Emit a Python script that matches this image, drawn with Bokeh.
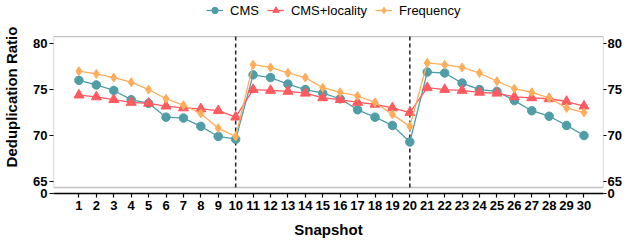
from bokeh.plotting import figure
from bokeh.models import (Range1d, LinearAxis, FixedTicker, BoxAnnotation,
                          Legend, LegendItem)
from bokeh.embed import file_html
from bokeh.resources import INLINE

snapshots = list(range(1, 31))
cms = [76.0, 75.5, 74.9, 73.9, 73.5, 72.0, 71.9, 71.0, 69.9, 69.6,
       76.6, 76.3, 75.6, 75.0, 74.6, 74.0, 72.8, 72.0, 71.1, 69.3,
       76.9, 76.8, 75.7, 75.0, 74.8, 73.8, 72.7, 72.1, 71.1, 70.0]
cms_locality = [74.4, 74.2, 73.9, 73.6, 73.5, 73.2, 73.0, 72.9, 72.7, 72.0,
                75.0, 74.9, 74.8, 74.6, 74.1, 73.9, 73.6, 73.4, 73.0, 72.5,
                75.2, 75.0, 74.9, 74.7, 74.6, 74.2, 74.1, 74.0, 73.7, 73.2]
frequency = [77.0, 76.7, 76.3, 75.8, 75.0, 74.0, 73.3, 72.4, 70.8, 69.9,
             77.7, 77.4, 76.8, 76.3, 75.2, 74.7, 74.3, 73.6, 72.3, 71.0,
             77.9, 77.7, 77.4, 76.8, 75.9, 75.1, 74.7, 74.1, 73.0, 72.5]
break_snapshots = [10, 20]
y_ticks = [65, 70, 75, 80]
zero_pos = 63.7        # position of the broken-axis "0" tick
panel_bottom = 64.35   # bottom edge of the upper panel
y_top = 80.76          # top edge of the upper panel
y_end = 84.68          # frame top (room for the legend)
x_start, x_end = -0.46, 31.12

FONT = "Liberation Sans"
teal, red, orange = "#4F9DA6", "#FF5A5F", "#FFAD5A"

p = figure(width=624, height=240, output_backend="svg", toolbar_location=None,
           x_range=Range1d(x_start, x_end), y_range=Range1d(zero_pos, y_end),
           min_border_left=47, min_border_right=21, min_border_bottom=47,
           min_border_top=0)
p.outline_line_color = None
p.grid.visible = False
p.background_fill_color = "white"

# panel box
p.add_layout(BoxAnnotation(bottom=panel_bottom, top=y_top, fill_alpha=0,
                           line_color="#333333", line_width=1.3))

# dashed separators
p.segment(x0=break_snapshots, x1=break_snapshots,
          y0=[panel_bottom] * len(break_snapshots), y1=[y_top] * len(break_snapshots),
          line_color="#222222", line_width=1.5, line_dash="4 3")

r1l = p.line(snapshots, cms, line_color=teal, line_width=1.3)
r1s = p.scatter(snapshots, cms, marker="circle", size=8.5, fill_color=teal, line_color=teal)
r2l = p.line(snapshots, cms_locality, line_color=red, line_width=1.3)
r2s = p.scatter(snapshots, cms_locality, marker="triangle", size=10, fill_color=red, line_color=red)
r3l = p.line(snapshots, frequency, line_color=orange, line_width=1.3)
r3s = p.scatter(snapshots, frequency, marker="diamond", size=9, fill_color=orange, line_color=orange)

# axes
overrides = {zero_pos: "0"}
p.yaxis[0].ticker = FixedTicker(ticks=[zero_pos] + y_ticks)
p.yaxis[0].major_label_overrides = overrides
right = LinearAxis(ticker=FixedTicker(ticks=[zero_pos] + y_ticks))
right.major_label_overrides = overrides
p.add_layout(right, "right")

for ax in [p.yaxis[0], right]:
    ax.axis_line_color = None
    ax.minor_tick_line_color = None
    ax.major_tick_out = 4
    ax.major_tick_in = 0
    ax.major_tick_line_color = "black"
    ax.major_tick_line_width = 1.2
    ax.major_label_text_font = FONT
    ax.major_label_text_font_style = "bold"
    ax.major_label_text_font_size = "13px"
    ax.major_label_text_color = "black"
    ax.major_label_standoff = 2
right.major_label_orientation = "horizontal"
right.axis_label_standoff = 0
right.major_tick_out = 3
right.major_label_standoff = 1

p.yaxis[0].axis_label = "Deduplication Ratio"
p.yaxis[0].axis_label_text_font = FONT
p.yaxis[0].axis_label_text_font_style = "bold"
p.yaxis[0].axis_label_text_font_size = "15px"
p.yaxis[0].axis_label_text_color = "black"
p.yaxis[0].axis_label_standoff = 10

xa = p.xaxis[0]
xa.ticker = FixedTicker(ticks=snapshots)
xa.axis_line_color = "black"
xa.axis_line_width = 1.3
xa.minor_tick_line_color = None
xa.major_tick_out = 4
xa.major_tick_in = 0
xa.major_tick_line_color = "black"
xa.major_tick_line_width = 1.2
xa.major_label_text_font = FONT
xa.major_label_text_font_style = "bold"
xa.major_label_text_font_size = "13px"
xa.major_label_text_color = "black"
xa.major_label_standoff = 3
xa.axis_label = "Snapshot"
xa.axis_label_text_font = FONT
xa.axis_label_text_font_style = "bold"
xa.axis_label_text_font_size = "15px"
xa.axis_label_text_color = "black"
xa.axis_label_standoff = 8

legend = Legend(items=[
    LegendItem(label="CMS", renderers=[r1l, r1s]),
    LegendItem(label="CMS+locality", renderers=[r2l, r2s]),
    LegendItem(label="Frequency", renderers=[r3l, r3s]),
], orientation="horizontal", location=(153, 175))
legend.border_line_color = None
legend.background_fill_alpha = 0
legend.label_text_font = FONT
legend.label_text_font_size = "13px"
legend.label_text_color = "black"
legend.glyph_width = 17
legend.glyph_height = 16
legend.label_height = 16
legend.label_standoff = 7
legend.spacing = 8
legend.padding = 1
legend.margin = 0
p.add_layout(legend, "center")

open("out.html", "w").write(file_html(p, INLINE))
